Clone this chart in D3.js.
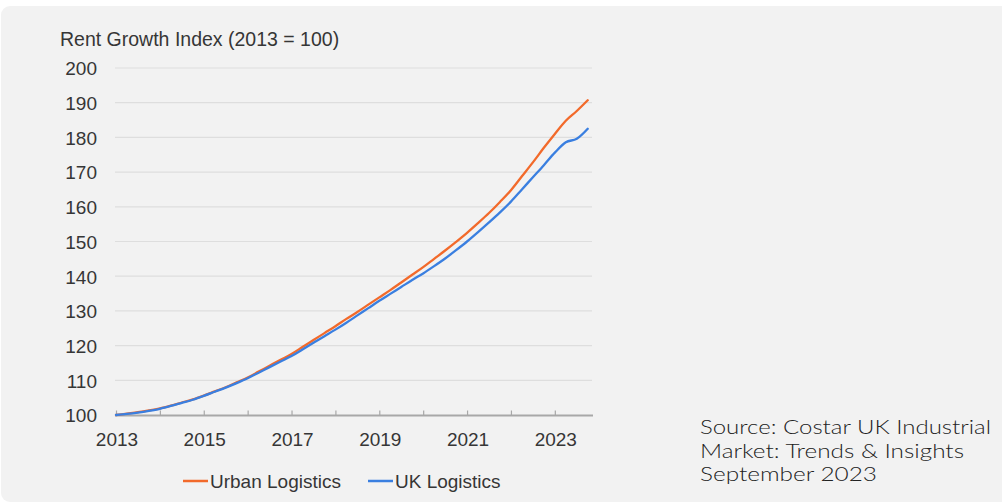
<!DOCTYPE html>
<html>
<head>
<meta charset="utf-8">
<script src="https://cdn.jsdelivr.net/npm/d3@7"></script>
<style>
  html, body { margin: 0; padding: 0; background: #ffffff; }
  svg { display: block; }
</style>
</head>
<body>
<svg id="chart" width="1002" height="504"></svg>
<script>
// Quarterly observations, 2013 Q1 to 2023 Q4
const quarters = d3.range(0, 44).map(i => 2013 + i * 0.25);

const urbanLogistics = [
  100.0, 100.4, 100.8, 101.3,
  101.9, 102.7, 103.6, 104.5,
  105.6, 106.8, 108.0, 109.4,
  110.8, 112.5, 114.2, 115.9,
  117.6, 119.6, 121.6, 123.6,
  125.6, 127.7, 129.7, 131.8,
  133.9, 136.0, 138.2, 140.4,
  142.6, 145.0, 147.4, 149.9,
  152.5, 155.3, 158.2, 161.4,
  164.8, 168.8, 172.8, 177.0,
  181.0, 184.8, 187.6, 190.7
];

const ukLogistics = [
  100.0, 100.3, 100.7, 101.2,
  101.8, 102.6, 103.5, 104.4,
  105.5, 106.7, 107.9, 109.2,
  110.6, 112.2, 113.8, 115.4,
  117.0, 118.9, 120.8, 122.7,
  124.6, 126.6, 128.7, 130.8,
  132.9, 134.9, 136.9, 138.9,
  140.8, 142.9, 145.1, 147.5,
  150.0, 152.7, 155.5, 158.4,
  161.5, 165.0, 168.5, 172.0,
  175.6, 178.6, 179.6, 182.5
];

const yearTicks = d3.range(2013, 2024);
const yearLabels = [2013, 2015, 2017, 2019, 2021, 2023];
const valueTicks = d3.range(100, 201, 10);

const seriesNames = ["Urban Logistics", "UK Logistics"];
const seriesColors = ["#f26a2b", "#3a7fe0"];

const sourceLines = [
  "Source: Costar UK Industrial",
  "Market: Trends & Insights",
  "September 2023"
];

const svg = d3.select("#chart");

// card background
svg.append("rect")
  .attr("x", 1).attr("y", 6)
  .attr("width", 1020).attr("height", 496)
  .attr("rx", 9).attr("ry", 9)
  .attr("fill", "#f2f2f2");

const x = d3.scaleLinear().domain([2013, 2023.87]).range([116, 593]);
const y = d3.scaleLinear().domain([100, 200]).range([415, 68]);

const axisFont = "'Liberation Sans', Arial, sans-serif";
const axisSize = 19;
const textColor = "#363636";

// horizontal gridlines
svg.append("g")
  .selectAll("line")
  .data(valueTicks.filter(v => v > 100))
  .join("line")
  .attr("x1", 115).attr("x2", 592)
  .attr("y1", d => y(d)).attr("y2", d => y(d))
  .attr("stroke", "#dedede")
  .attr("stroke-width", 1.2);

// y axis labels
const yAxis = d3.axisLeft(y).tickValues(valueTicks).tickSize(0).tickPadding(0);
svg.append("g")
  .attr("transform", "translate(97,0)")
  .call(yAxis)
  .call(g => g.select(".domain").remove())
  .selectAll("text")
  .attr("font-family", axisFont)
  .attr("font-size", axisSize)
  .attr("fill", textColor)
  .attr("dy", "0.36em");

// x axis: baseline with small upward ticks
const xAxis = d3.axisTop(x).tickValues(yearTicks).tickSize(5).tickFormat("");
svg.append("g")
  .attr("transform", "translate(0,415.5)")
  .call(xAxis)
  .call(g => g.select(".domain")
    .attr("d", `M${x.range()[0] - 1},0H${x.range()[1]}`)
    .attr("stroke", "#a8a8a8").attr("stroke-width", 2))
  .call(g => g.selectAll(".tick line").attr("stroke", "#a8a8a8").attr("stroke-width", 1.2));

svg.append("g")
  .selectAll("text")
  .data(yearLabels)
  .join("text")
  .attr("x", d => x(d) + 1)
  .attr("y", 446)
  .attr("text-anchor", "middle")
  .attr("font-family", axisFont)
  .attr("font-size", axisSize)
  .attr("fill", textColor)
  .text(d => d);

// axis title
svg.append("text")
  .attr("x", 60).attr("y", 46)
  .attr("font-family", axisFont)
  .attr("font-size", 19.5)
  .attr("fill", textColor)
  .text("Rent Growth Index (2013 = 100)");

// series lines
const line = d3.line()
  .x((d, i) => x(quarters[i]))
  .y(d => y(d))
  .curve(d3.curveMonotoneX);

[urbanLogistics, ukLogistics].forEach((values, k) => {
  svg.append("path")
    .datum(values)
    .attr("d", line)
    .attr("fill", "none")
    .attr("stroke", seriesColors[k])
    .attr("stroke-width", 2.3)
    .attr("stroke-linejoin", "round")
    .attr("stroke-linecap", "round");
});

// legend
const legendX = [183, 368];
const legend = svg.append("g");
seriesNames.forEach((name, k) => {
  legend.append("line")
    .attr("x1", legendX[k]).attr("x2", legendX[k] + 25)
    .attr("y1", 481).attr("y2", 481)
    .attr("stroke", seriesColors[k])
    .attr("stroke-width", 2.5);
  legend.append("text")
    .attr("x", legendX[k] + 27).attr("y", 488)
    .attr("font-family", axisFont)
    .attr("font-size", axisSize)
    .attr("fill", textColor)
    .text(name);
});

// source note
const sourceWidths = [291, 264, 177];
svg.append("g")
  .selectAll("text")
  .data(sourceLines)
  .join("text")
  .attr("x", 700)
  .attr("y", (d, i) => 434 + i * 23.6)
  .attr("font-family", "Lato, 'Open Sans', sans-serif")
  .attr("font-weight", 300)
  .attr("font-size", 20)
  .attr("fill", "#222222")
  .attr("textLength", (d, i) => sourceWidths[i])
  .attr("lengthAdjust", "spacingAndGlyphs")
  .text(d => d);
</script>
</body>
</html>
